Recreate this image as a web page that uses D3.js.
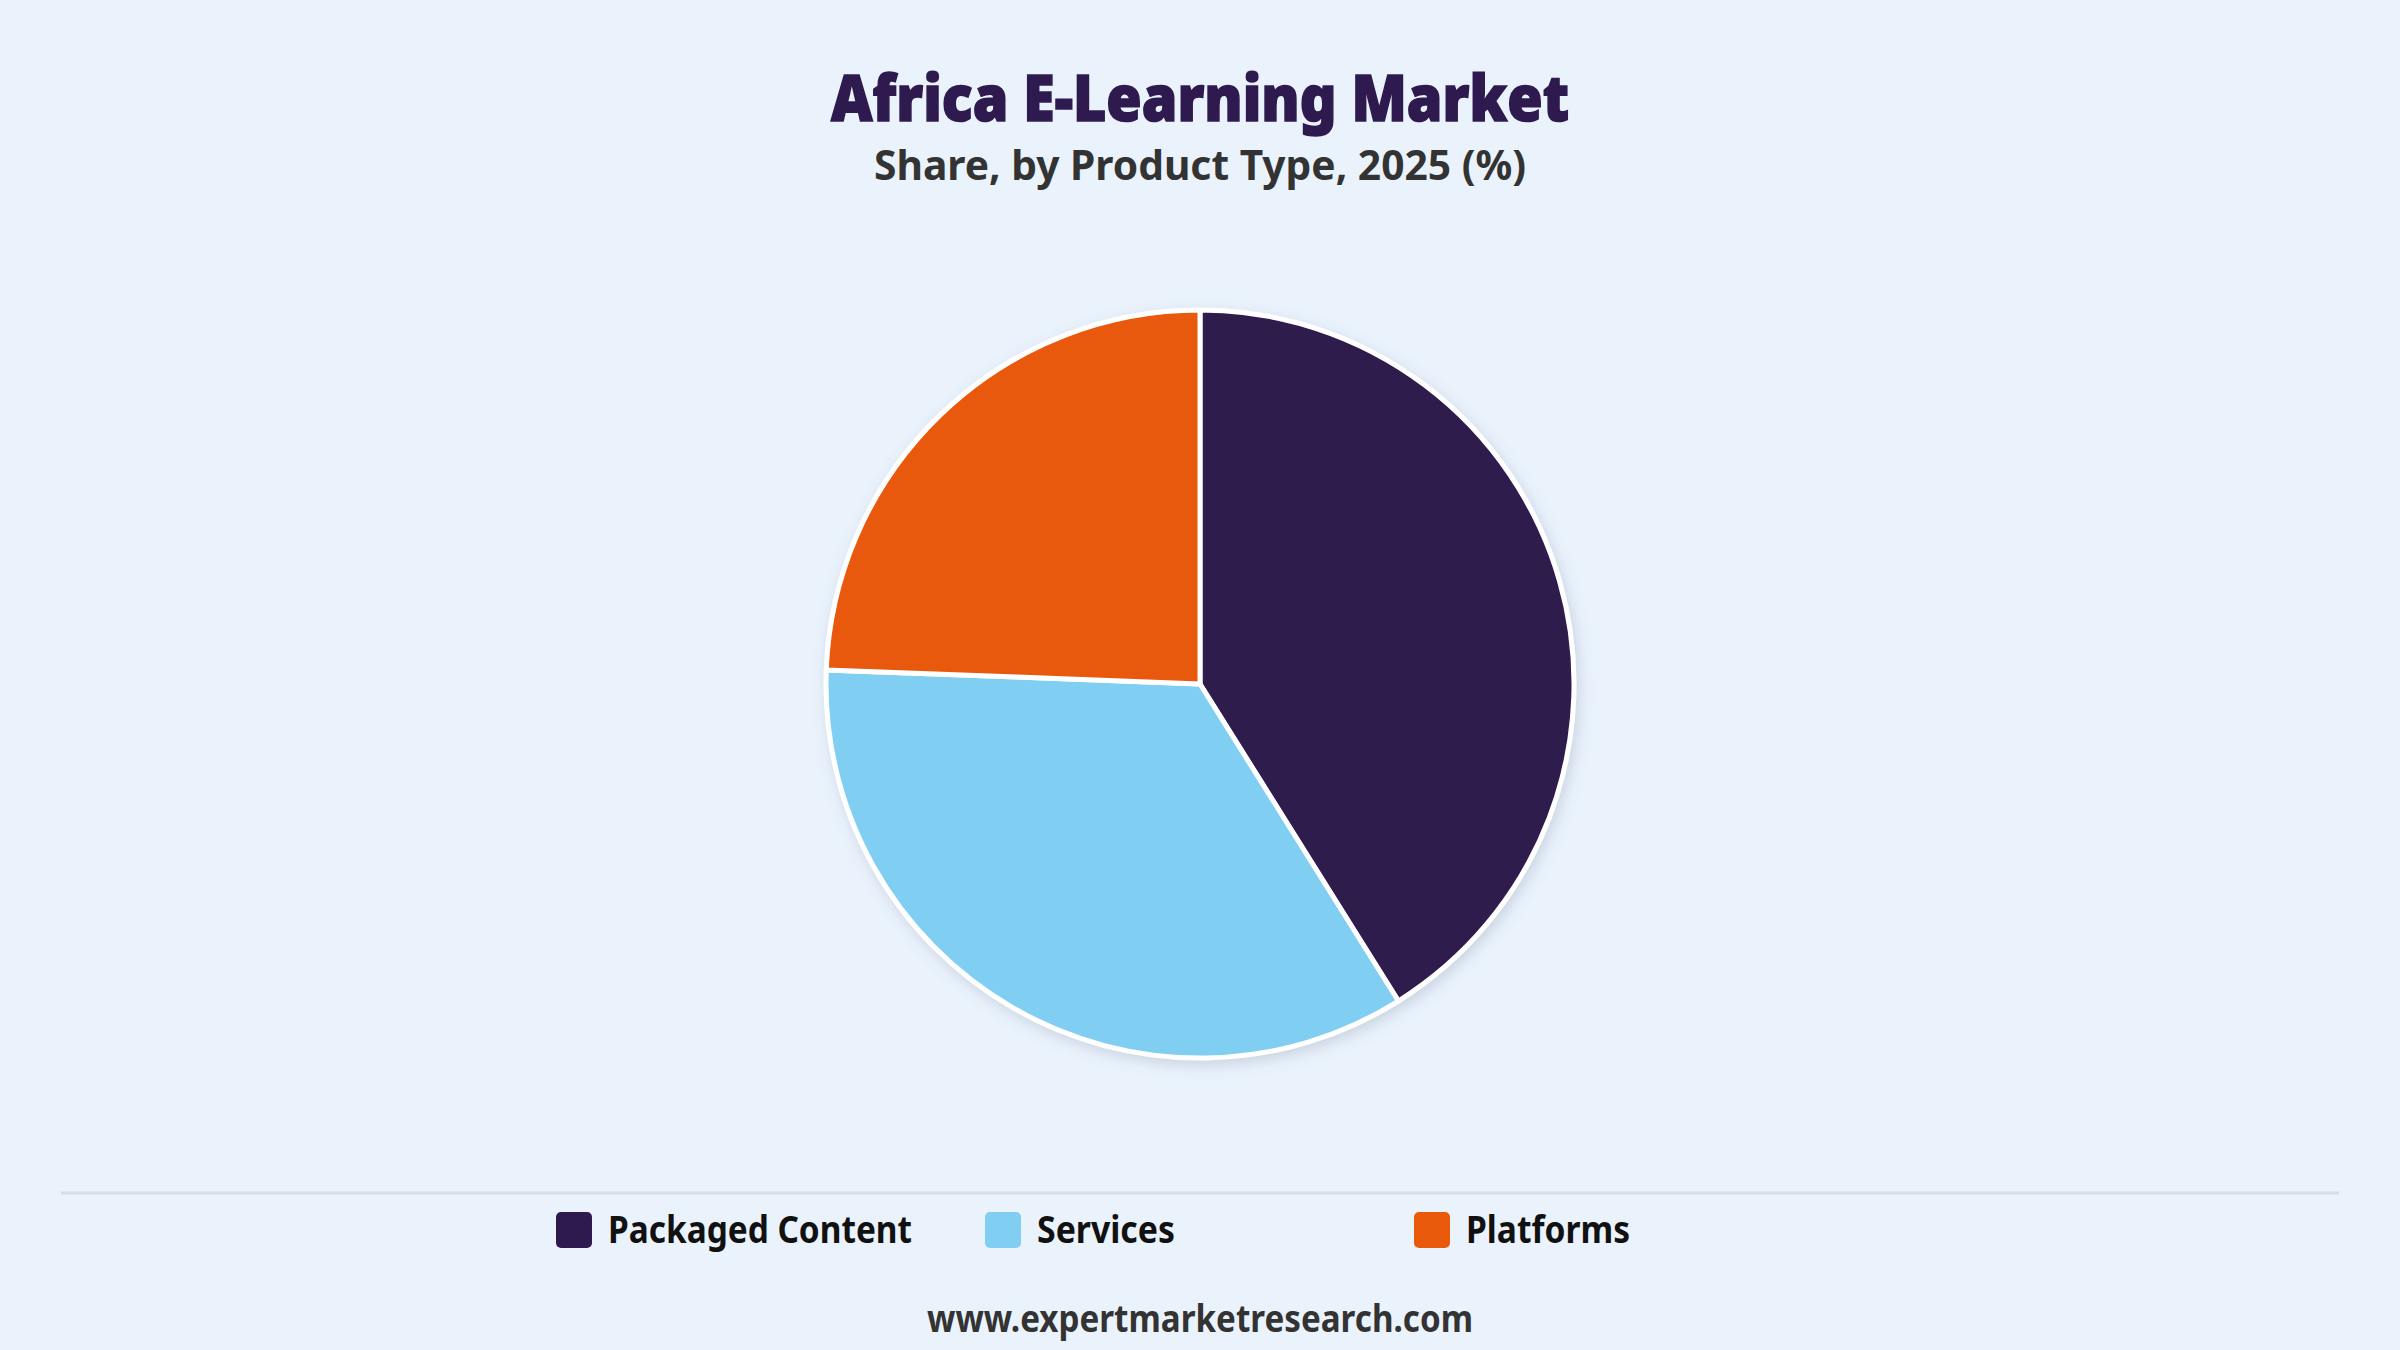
<!DOCTYPE html>
<html>
<head>
<meta charset="utf-8">
<script src="https://cdn.jsdelivr.net/npm/d3@7"></script>
<style>
  html, body { margin: 0; padding: 0; background: #EAF2FC; }
  svg { display: block; }
</style>
</head>
<body>
<svg id="chart"></svg>
<script>
// constants
const width = 2400,
    height = 1350,
    cx = 1200,
    cy = 684,
    radius = 374;

// data
const categories = ["Packaged Content", "Services", "Platforms"];
const shares = [41.1, 34.5, 24.4];
const colors = ["#2E1A4E", "#80CFF2", "#E8590C"];

const data = categories.map((c, i) => ({ name: c, value: shares[i] }));

const svg = d3.select("#chart")
    .attr("width", width)
    .attr("height", height);

svg.append("rect")
    .attr("width", width)
    .attr("height", height)
    .attr("fill", "#EAF2FC");

// drop shadow for the pie
const defs = svg.append("defs");
const filter = defs.append("filter")
    .attr("id", "shadow")
    .attr("x", "-20%").attr("y", "-20%")
    .attr("width", "140%").attr("height", "140%");
filter.append("feDropShadow")
    .attr("dx", 3)
    .attr("dy", 5)
    .attr("stdDeviation", 7)
    .attr("flood-color", "#6b7a90")
    .attr("flood-opacity", 0.25);

// titles
svg.append("text")
    .attr("x", cx)
    .attr("y", 121)
    .attr("text-anchor", "middle")
    .attr("font-family", "'Noto Sans', sans-serif")
    .attr("font-weight", 900)
    .attr("font-size", 63)
    .attr("fill", "#2E1A4E")
    .attr("stroke", "#2E1A4E")
    .attr("stroke-width", 1.6)
    .attr("textLength", 738)
    .attr("lengthAdjust", "spacingAndGlyphs")
    .text("Africa E-Learning Market");

svg.append("text")
    .attr("x", cx)
    .attr("y", 180)
    .attr("text-anchor", "middle")
    .attr("font-family", "'Noto Sans', sans-serif")
    .attr("font-weight", 700)
    .attr("font-size", 41)
    .attr("fill", "#333333")
    .attr("textLength", 652)
    .attr("lengthAdjust", "spacingAndGlyphs")
    .text("Share, by Product Type, 2025 (%)");

// pie
const pie = d3.pie()
    .value(d => d.value)
    .sort(null)
    .startAngle(0)
    .endAngle(2 * Math.PI);

const arc = d3.arc()
    .innerRadius(0)
    .outerRadius(radius);

const color = d3.scaleOrdinal()
    .domain(categories)
    .range(colors);

const g = svg.append("g")
    .attr("transform", `translate(${cx},${cy})`)
    .attr("filter", "url(#shadow)");

g.selectAll("path")
    .data(pie(data))
    .join("path")
    .attr("d", arc)
    .attr("fill", d => color(d.data.name))
    .attr("stroke", "#ffffff")
    .attr("stroke-width", 5)
    .attr("stroke-linejoin", "round");

// separator
svg.append("line")
    .attr("x1", 61)
    .attr("x2", 2339)
    .attr("y1", 1193)
    .attr("y2", 1193)
    .attr("stroke", "#D9DCE1")
    .attr("stroke-width", 3);

// legend
const legendX = d3.scaleBand()
    .domain(categories)
    .range([556, 556 + 429 * 3]);

const legendWidths = [304, 138, 164];

const item = svg.append("g")
    .selectAll("g")
    .data(categories)
    .join("g")
    .attr("transform", d => `translate(${legendX(d)},1212)`);

item.append("rect")
    .attr("width", 36)
    .attr("height", 36)
    .attr("rx", 5)
    .attr("fill", d => color(d));

item.append("text")
    .attr("x", 52)
    .attr("y", 31)
    .attr("font-family", "'Noto Sans', sans-serif")
    .attr("font-weight", 700)
    .attr("font-size", 37)
    .attr("fill", "#111111")
    .attr("textLength", (d, i) => legendWidths[i])
    .attr("lengthAdjust", "spacingAndGlyphs")
    .text(d => d);

// footer
svg.append("text")
    .attr("x", cx)
    .attr("y", 1332)
    .attr("text-anchor", "middle")
    .attr("font-family", "'Noto Sans', sans-serif")
    .attr("font-weight", 700)
    .attr("font-size", 37)
    .attr("fill", "#333333")
    .attr("textLength", 546)
    .attr("lengthAdjust", "spacingAndGlyphs")
    .text("www.expertmarketresearch.com");
</script>
</body>
</html>
